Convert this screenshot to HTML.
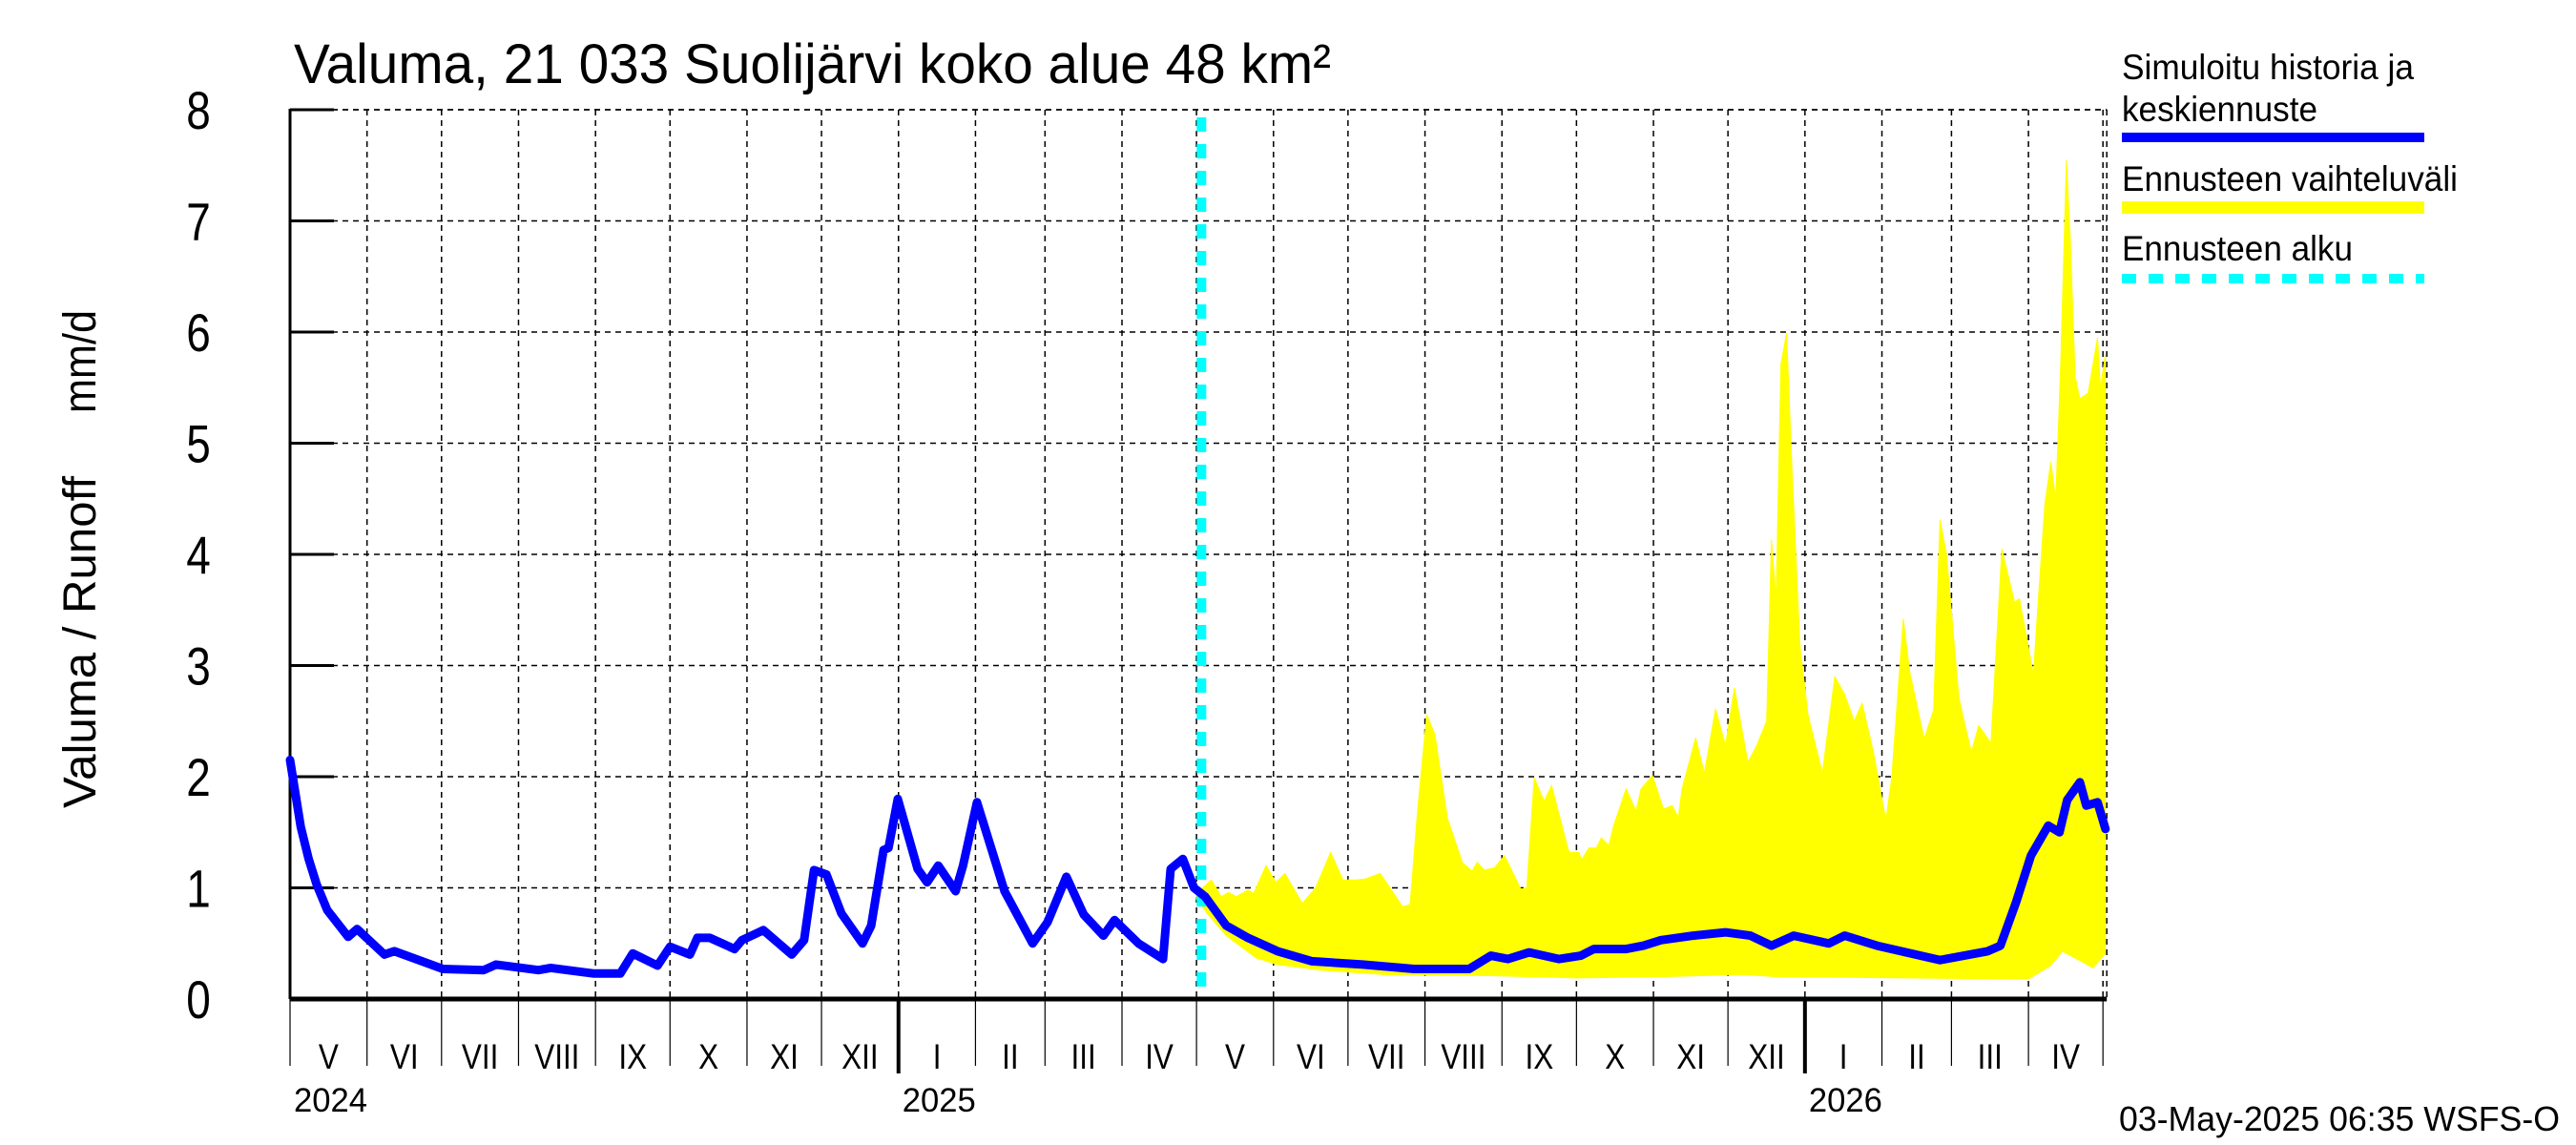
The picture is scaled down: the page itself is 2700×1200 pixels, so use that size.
<!DOCTYPE html>
<html><head><meta charset="utf-8"><title>Valuma chart</title>
<style>
html,body{margin:0;padding:0;background:#fff;}
svg{display:block;font-family:"Liberation Sans",Arial,sans-serif;}
</style></head>
<body>
<svg id="chart" width="2700" height="1200" viewBox="0 0 2700 1200" xmlns="http://www.w3.org/2000/svg">
  <rect x="0" y="0" width="2700" height="1200" fill="#fff"/>
  <g id="grid"></g>
  <g id="band"></g>
  <g id="axes"></g>
  <g id="lines"></g>
  <text x="308" y="87" font-size="58" textLength="1087" lengthAdjust="spacingAndGlyphs">Valuma, 21 033 Suolijärvi koko alue 48 km²</text>
  <text transform="translate(100,673) rotate(-90)" text-anchor="middle" font-size="48" textLength="348" lengthAdjust="spacingAndGlyphs">Valuma / Runoff</text>
  <text transform="translate(100,379) rotate(-90)" text-anchor="middle" font-size="48" textLength="108" lengthAdjust="spacingAndGlyphs">mm/d</text>
  <g>
    <text x="2224" y="83" font-size="37" textLength="306" lengthAdjust="spacingAndGlyphs">Simuloitu historia ja</text>
    <text x="2224" y="127" font-size="37" textLength="205" lengthAdjust="spacingAndGlyphs">keskiennuste</text>
    <rect x="2224" y="139" width="317" height="10" fill="#0000ff"/>
    <text x="2224" y="200" font-size="37" textLength="352" lengthAdjust="spacingAndGlyphs">Ennusteen vaihteluväli</text>
    <rect x="2224" y="211" width="317" height="13" fill="#ffff00"/>
    <text x="2224" y="273" font-size="37" textLength="242" lengthAdjust="spacingAndGlyphs">Ennusteen alku</text>
    <line x1="2224" y1="292" x2="2541" y2="292" stroke="#00ffff" stroke-width="10" stroke-dasharray="15,13"/>
  </g>
  <text x="2221" y="1185" font-size="36" textLength="462" lengthAdjust="spacingAndGlyphs">03-May-2025 06:35 WSFS-O</text>
</svg>
<script>
// ---- data (day offset from 2024-05-01, runoff mm/d) ----
const histDays = [0,4.3,7.5,10.7,15,23.4,27,38,42,61.6,78,83,100,105,122,133,138,148,153,161,164,169,179,182,190.6,202,207,211,216,222,230.5,234,239,241,244.7,252.7,256.5,261,268,271,276.6,287.7,299,305,312.6,319.6,327.5,332,341.7,351.5,354.6,359.5,364];
const histVals = [2.15,1.55,1.26,1.03,0.8,0.56,0.63,0.40,0.43,0.27,0.26,0.31,0.26,0.28,0.23,0.23,0.41,0.30,0.47,0.40,0.55,0.55,0.45,0.53,0.62,0.40,0.53,1.16,1.12,0.77,0.50,0.66,1.34,1.36,1.80,1.17,1.05,1.20,0.97,1.20,1.77,0.97,0.50,0.69,1.10,0.76,0.57,0.71,0.50,0.36,1.17,1.26,1.00];
const fcDays = [364,368.5,377,385.7,397.6,411.5,432,452.6,474.8,483.5,490.4,499,511,519.7,525,538,545,552,565,578,588,596.5,605.5,619.6,626,639,664.4,683.6,688.7,695,701,708,712.5,715.6,720.7,723.3,727.8,731];
const fcVals = [1.00,0.92,0.66,0.55,0.43,0.34,0.31,0.27,0.27,0.39,0.36,0.42,0.36,0.39,0.45,0.45,0.48,0.53,0.57,0.60,0.57,0.48,0.57,0.50,0.57,0.48,0.35,0.43,0.48,0.87,1.29,1.56,1.50,1.79,1.95,1.74,1.77,1.53];
const upDays = [365,371,375,378,381,385.7,388,393,397,400.6,407.6,413,419,424,429,433,439,448,451,454,457.7,461,466,472,476,478,481,485,489,495.6,498,501,505,508,515,519,520,523,526,528,531,533,538,542,544,548.6,553,556.6,559,560.5,566,569.5,574,578,581.6,587,590.6,594.6,596.5,598.4,600.3,602.6,604.8,608,611.2,617,622,626,629.8,633,637.5,642.6,645,649.6,652.2,658,661.8,664.4,667,672,677,680,684.9,686,689.3,694.4,696.4,702,704,706.6,709,711,713,715.3,716.9,718.8,720.7,724,727.8,729,731];
const upVals = [0.95,1.07,0.92,0.96,0.92,0.98,0.95,1.20,1.05,1.13,0.86,1.00,1.32,1.07,1.07,1.08,1.13,0.83,0.85,1.69,2.56,2.38,1.63,1.23,1.15,1.23,1.16,1.18,1.29,0.99,1.00,1.99,1.78,1.92,1.32,1.32,1.25,1.36,1.36,1.45,1.38,1.56,1.89,1.69,1.89,2.01,1.71,1.74,1.63,1.89,2.35,2.03,2.61,2.28,2.80,2.13,2.28,2.50,4.13,3.60,5.71,5.99,4.76,3.18,2.56,2.03,2.90,2.74,2.50,2.66,2.23,1.61,2.00,3.42,2.94,2.34,2.60,4.31,4.00,2.71,2.22,2.46,2.30,2.75,4.05,3.57,3.60,2.92,3.60,4.45,4.83,4.50,5.71,7.55,6.80,5.60,5.40,5.45,5.95,5.50,5.80];
const loDays = [365,370,377,389,397.6,415,441,483.5,518,550,584.5,600,650,700,709,713.6,722,726,731];
const loVals = [0.90,0.75,0.57,0.37,0.31,0.26,0.22,0.21,0.19,0.20,0.22,0.20,0.19,0.18,0.30,0.43,0.33,0.28,0.41];
const yTicks = [0,1,2,3,4,5,6,7,8];
const monthLabels = ["V","VI","VII","VIII","IX","X","XI","XII","I","II","III","IV","V","VI","VII","VIII","IX","X","XI","XII","I","II","III","IV"];
const monthStartDays = [0,31,61,92,123,153,184,214,245,276,304,335,365,396,426,457,488,518,549,579,610,641,669,700,730];
const yearLabels = ["2024","2025","2026"];
const yearDays = [0,245,610];
const forecastStartDay = 367;

// ---- scales ----
const X0 = 304, PXDAY = 2.603, Y0 = 1047, PXUNIT = 116.5;
const xs = d => X0 + d * PXDAY;
const ys = v => Y0 - v * PXUNIT;
const NS = "http://www.w3.org/2000/svg";
function mk(tag, parent, attrs) {
  const e = document.createElementNS(NS, tag);
  for (const k in attrs) e.setAttribute(k, attrs[k]);
  parent.appendChild(e);
  return e;
}
const grid = document.getElementById('grid');
const axes = document.getElementById('axes');
const band = document.getElementById('band');
const lines = document.getElementById('lines');
const xEnd = xs(730);

yTicks.forEach(v => {
  if (v > 0) {
    const g = mk('line', grid, {x1: X0, x2: xEnd + 4, y1: ys(v), y2: ys(v), stroke: '#000', 'stroke-width': 1.5, 'stroke-dasharray': '6,5'});
    
    
  }
  const t = mk('line', axes, {x1: X0, x2: X0 + 46, y1: ys(v), y2: ys(v), stroke: '#000', 'stroke-width': 3});
  
  
  const l = mk('text', axes, {transform: 'translate(208,' + (ys(v) + 20) + ') scale(0.82,1)', 'text-anchor': 'middle', 'font-size': 56});
  l.textContent = v;
  
  
});

monthStartDays.forEach((d, i) => {
  const x = xs(d);
  if (d > 0) {
    const g = mk('line', grid, {x1: x, x2: x, y1: ys(8), y2: Y0, stroke: '#000', 'stroke-width': 1.5, 'stroke-dasharray': '6,5'});
    
    
  }
  const isJan = yearDays.includes(d) && d > 0;
  const t = mk('line', axes, {x1: x, x2: x, y1: Y0, y2: isJan ? 1125 : 1117, stroke: '#000', 'stroke-width': isJan ? 4 : 1.2});
  
  
  if (i < monthLabels.length) {
    const cx = (x + xs(monthStartDays[i + 1])) / 2;
    const l = mk('text', axes, {transform: 'translate(' + cx + ',1120) scale(0.85,1)', 'text-anchor': 'middle', 'font-size': 37});
    l.textContent = monthLabels[i];
    
    
  }
});
yearLabels.forEach((s, i) => {
  const l = mk('text', axes, {x: xs(yearDays[i]) + 4, y: 1165, 'font-size': 35, textLength: 77, lengthAdjust: 'spacingAndGlyphs'});
  l.textContent = s;
  
  
});
const topF = mk('line', grid, {x1: X0, x2: xEnd + 4, y1: ys(8), y2: ys(8), stroke: '#000', 'stroke-width': 1.5, 'stroke-dasharray': '6,5'});


const rF = mk('line', grid, {x1: xEnd + 4, x2: xEnd + 4, y1: ys(8), y2: Y0, stroke: '#000', 'stroke-width': 1.5, 'stroke-dasharray': '6,5'});



let pts = upDays.map((d, i) => xs(d).toFixed(1) + ',' + ys(upVals[i]).toFixed(1));
for (let i = loDays.length - 1; i >= 0; i--) pts.push(xs(loDays[i]).toFixed(1) + ',' + ys(loVals[i]).toFixed(1));
const poly = mk('polygon', band, {points: pts.join(' '), fill: '#ffff00', stroke: '#ffff00', 'stroke-width': 1});



const la = mk('line', axes, {x1: X0, x2: X0, y1: ys(8) - 1, y2: Y0, stroke: '#000', 'stroke-width': 3});


const ba = mk('line', axes, {x1: X0, x2: xEnd + 4, y1: Y0, y2: Y0, stroke: '#000', 'stroke-width': 5});



const fs = mk('line', lines, {x1: xs(forecastStartDay), x2: xs(forecastStartDay), y1: ys(8) + 8, y2: Y0, stroke: '#00ffff', 'stroke-width': 10, 'stroke-dasharray': '15,13'});



const allDays = histDays.concat(fcDays.slice(1));
const allVals = histVals.concat(fcVals.slice(1));
const d = allDays.map((dd, i) => (i ? 'L' : 'M') + xs(dd).toFixed(1) + ',' + ys(allVals[i]).toFixed(1)).join(' ');
const sim = mk('path', lines, {d: d, fill: 'none', stroke: '#0000ff', 'stroke-width': 9, 'stroke-linejoin': 'round', 'stroke-linecap': 'round'});


</script>
</body></html>
